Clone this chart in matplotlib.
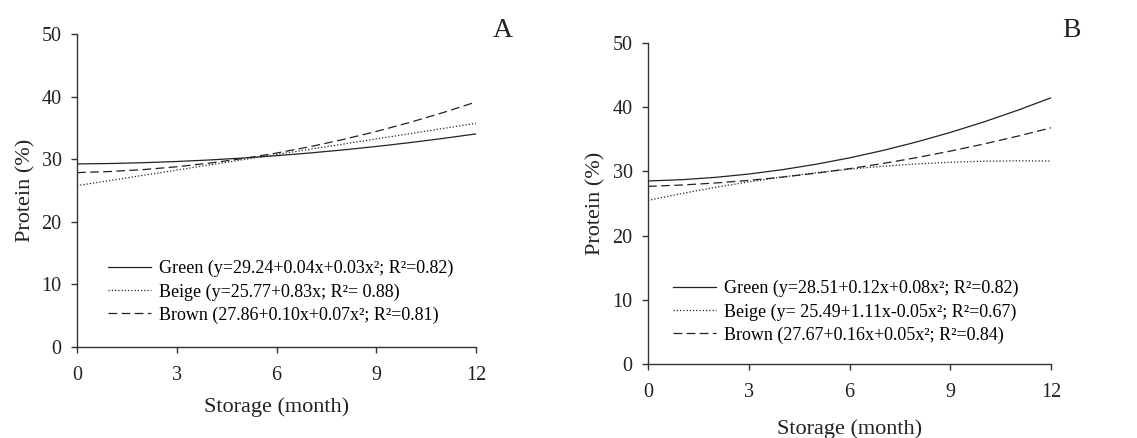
import matplotlib
matplotlib.use("Agg")
import matplotlib.pyplot as plt

plt.rcParams['font.family'] = ['Liberation Serif', 'DejaVu Serif']

# storage months
months = [0, 1, 2, 3, 4, 5, 6, 7, 8, 9, 10, 11, 12]

# panel A (protein %)
a_green = [29.24, 29.31, 29.44, 29.63, 29.88, 30.19, 30.56, 30.99, 31.48, 32.03, 32.64, 33.31, 34.04]
a_beige = [25.77, 26.60, 27.43, 28.26, 29.09, 29.92, 30.75, 31.58, 32.41, 33.24, 34.07, 34.90, 35.73]
a_brown = [27.86, 28.03, 28.34, 28.79, 29.38, 30.11, 30.98, 31.99, 33.14, 34.43, 35.86, 37.43, 39.14]

# panel B
b_green = [28.51, 28.71, 29.07, 29.59, 30.27, 31.11, 32.11, 33.27, 34.59, 36.07, 37.71, 39.51, 41.47]
b_beige = [25.49, 26.55, 27.51, 28.37, 29.13, 29.79, 30.35, 30.81, 31.17, 31.43, 31.59, 31.65, 31.61]
b_brown = [27.67, 27.88, 28.19, 28.60, 29.11, 29.72, 30.43, 31.24, 32.15, 33.16, 34.27, 35.48, 36.79]

a_labels = ["Green (y=29.24+0.04x+0.03x²; R²=0.82)",
            "Beige (y=25.77+0.83x; R²= 0.88)",
            "Brown (27.86+0.10x+0.07x²; R²=0.81)"]
b_labels = ["Green (y=28.51+0.12x+0.08x²; R²=0.82)",
            "Beige (y= 25.49+1.11x-0.05x²; R²=0.67)",
            "Brown (27.67+0.16x+0.05x²; R²=0.84)"]

xticks = [0, 3, 6, 9, 12]
yticks = [0, 10, 20, 30, 40, 50]

col = '#222222'
styles = ['-', (0, (1, 1.6)), (0, (7, 3.5))]


def draw(ax, series, labels, letter, leg_anchor, letter_pos, xlab_y, ylab_x):
    for s, lab, ls in zip(series, labels, styles):
        ax.plot(months, s, color=col, lw=0.9, linestyle=ls, label=lab)
    ax.set_xlim(0, 12)
    ax.set_ylim(0, 50)
    ax.set_xticks(xticks)
    ax.set_yticks(yticks)
    for sp in ['top', 'right']:
        ax.spines[sp].set_visible(False)
    for sp in ['left', 'bottom']:
        ax.spines[sp].set_color('#333333')
        ax.spines[sp].set_linewidth(1.0)
    ax.tick_params(direction='out', length=4, width=1.0, color='#333333',
                   labelsize=14.5, pad=7, labelcolor='#222222')
    ax.tick_params(axis='x', pad=10)
    ax.set_xlabel("Storage (month)", fontsize=16, color='#222222')
    ax.set_ylabel("Protein (%)", fontsize=16, color='#222222')
    ax.xaxis.set_label_coords(0.5, xlab_y)
    ax.yaxis.set_label_coords(ylab_x, 0.5)
    ax.legend(loc='upper left', bbox_to_anchor=leg_anchor, frameon=False,
              fontsize=13, handlelength=2.4, handletextpad=0.42,
              labelspacing=0.33, borderpad=0, borderaxespad=0)
    ax.text(letter_pos[0], letter_pos[1], letter, transform=ax.figure.transFigure,
            fontsize=20, ha='center', va='center', color='#222222')


fig = plt.figure(figsize=(11.37, 4.38), dpi=100)
ax1 = fig.add_axes([0.0677, 0.2078, 0.351, 0.7146])
ax2 = fig.add_axes([0.5699, 0.1689, 0.3545, 0.7329])

draw(ax1, [a_green, a_beige, a_brown], a_labels, "A",
     (0.078, 0.278), (0.442, 0.93), -0.16, -0.105)
draw(ax2, [b_green, b_beige, b_brown], b_labels, "B",
     (0.062, 0.262), (0.942, 0.93), -0.171, -0.105)

fig.savefig("out.png", dpi=100)
